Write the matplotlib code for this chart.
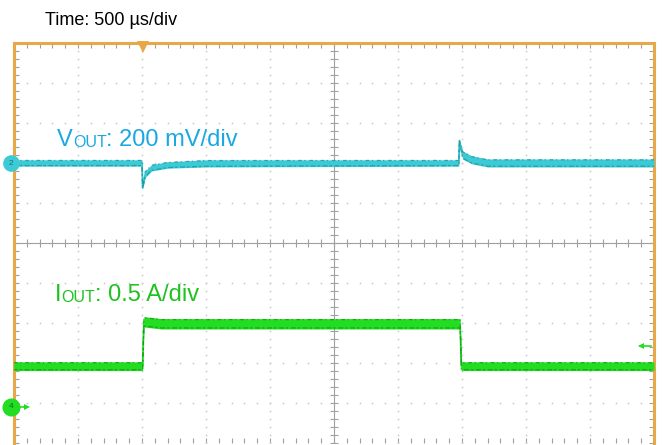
#!/usr/bin/env python3
import numpy as np
import matplotlib
matplotlib.use("Agg")
import matplotlib.pyplot as plt
from matplotlib.transforms import IdentityTransform

plt.rcParams['font.family'] = ['Liberation Sans', 'DejaVu Sans']

W, H = 662, 445

# Waveforms, in scope divisions (x: 0..10 from left, y: -5..5 from centre)
vout_t = [0.0, 2.0, 2.01, 2.05, 2.15, 2.4, 3.0, 6.95, 6.96, 7.01, 7.15, 7.4, 10.0]
vout_v = [2.0, 2.0, 1.38, 1.72, 1.88, 1.95, 1.99, 2.0, 2.55, 2.2, 2.08, 2.0, 2.0]
# half-width of the noise band (div)
vout_n = [0.08, 0.08, 0.02, 0.08, 0.08, 0.08, 0.09, 0.08, 0.02, 0.1, 0.1, 0.1, 0.1]

iout_t = [0.0, 2.01, 2.02, 2.03, 2.3, 6.97, 6.98, 6.99, 10.0]
iout_v = [-3.08, -3.08, -2.5, -1.97, -2.02, -2.02, -2.5, -3.08, -3.08]
iout_n = [0.11, 0.11, 0.02, 0.13, 0.13, 0.13, 0.02, 0.11, 0.11]

# channel markers and labels
ch2_level = 2.0
ch4_level = -4.1
trig_pos = 2.02
trig_level = -2.58
time_label = "Time: 500 µs/div"
vout_label = ("V", "OUT", ": 200 mV/div")
iout_label = ("I", "OUT", ": 0.5 A/div")

ORANGE = "#E9A848"
GRIDC = "#CDCDCD"
AXC = "#A0A0A0"
CYAN = "#3CCBD6"
CYAN_D = "#1E96A0"
CYAN_TXT = "#1AA8E4"
GREEN = "#22DD22"
GREEN_D = "#149A14"
GREEN_TXT = "#1EC21E"

fig = plt.figure(figsize=(W / 100, H / 100), dpi=100)
ax = fig.add_axes([14 / W, 2 / H, 640 / W, 400 / H])
ax.set_xlim(0, 10)
ax.set_ylim(-5, 5)

for side in ["left", "top", "right"]:
    ax.spines[side].set_color(ORANGE)
    ax.spines[side].set_linewidth(2.2)
ax.spines["bottom"].set_visible(False)

ax.set_xticks(np.arange(0, 10.01, 0.2))
ax.set_yticks(np.arange(-5, 5.01, 0.2))
ax.tick_params(direction="in", length=3.5, width=0.8, color=AXC,
               top=True, bottom=True, left=True, right=True,
               labelbottom=False, labelleft=False)

# dotted graticule
minor = np.arange(0, 10.01, 0.2)
minor_y = np.arange(-5, 5.01, 0.2)
for i in range(1, 10):
    if i != 5:
        ax.plot(np.full_like(minor_y, i), minor_y, ls="none", marker="o",
                ms=1.3, mew=0, color=GRIDC)
for j in range(-4, 5):
    if j != 0:
        ax.plot(minor, np.full_like(minor, j), ls="none", marker="o",
                ms=1.3, mew=0, color=GRIDC)

# centre crosshair
ax.axvline(5, color=AXC, lw=0.8)
ax.axhline(0, color=AXC, lw=0.8)
ax.plot(np.full_like(minor_y, 5), minor_y, ls="none", marker="_", ms=6,
        mew=0.8, color=AXC)
ax.plot(minor, np.zeros_like(minor), ls="none", marker="|", ms=6,
        mew=0.8, color=AXC)


def trace(t, v, n, color, dark):
    t = np.array(t)
    v = np.array(v)
    n = np.array(n)
    ax.fill_between(t, v - n, v + n, color=color, lw=0, zorder=3)
    ax.plot(t, v, color=color, lw=1.3, zorder=3)
    ax.plot(t, v + n * 0.8, color=dark, lw=0.9, ls=(0, (3, 2, 1, 3)),
            alpha=0.8, zorder=4)
    ax.plot(t, v - n * 0.8, color=dark, lw=0.9, ls=(1, (4, 1.5, 2, 2)),
            alpha=0.8, zorder=4)


trace(vout_t, vout_v, vout_n, CYAN, CYAN_D)
trace(iout_t, iout_v, iout_n, GREEN, GREEN_D)

# channel ground markers
ax.plot([-0.05], [ch2_level], marker="o", ms=11, color=CYAN, mec=CYAN,
        clip_on=False, zorder=5)
ax.text(-0.05, ch2_level, "2", fontsize=6, color="#1A6F78", ha="center",
        va="center", clip_on=False, zorder=6)
ax.plot([-0.05], [ch4_level], marker="o", ms=12, color=GREEN, mec=GREEN,
        clip_on=False, zorder=5)
ax.text(-0.05, ch4_level, "4", fontsize=6, color="#166F16", ha="center",
        va="center", clip_on=False, zorder=6)
ax.plot([0.05, 0.2], [ch4_level, ch4_level], color=GREEN, lw=1.2, zorder=5)
ax.plot([0.2], [ch4_level], marker=">", ms=4, color=GREEN, mew=0, zorder=5)

# trigger markers
ax.plot([trig_pos], [4.9], marker="v", ms=8, color=ORANGE, mew=0,
        clip_on=False, zorder=5)
ax.plot([9.78, 9.95], [trig_level, trig_level], color=GREEN, lw=1.2)
ax.plot([9.8], [trig_level], marker="<", ms=5, color=GREEN, mew=0)

# labels
fig.text(45, H - 25, time_label, fontsize=13, color="black",
         transform=IdentityTransform(), va="baseline")

renderer = fig.canvas.get_renderer()


def chain(x, y, parts, color, size):
    big, small, rest = parts
    for s, fs, dy in [(big, size, 0), (small, size * 0.68, -1), (rest, size, 0)]:
        t = fig.text(x, y + dy, s, fontsize=fs, color=color,
                     transform=IdentityTransform(), va="baseline")
        x = t.get_window_extent(renderer).x1


chain(57, H - 146, vout_label, CYAN_TXT, 17)
chain(55, H - 301, iout_label, GREEN_TXT, 17)

fig.savefig("out.png", dpi=100)
